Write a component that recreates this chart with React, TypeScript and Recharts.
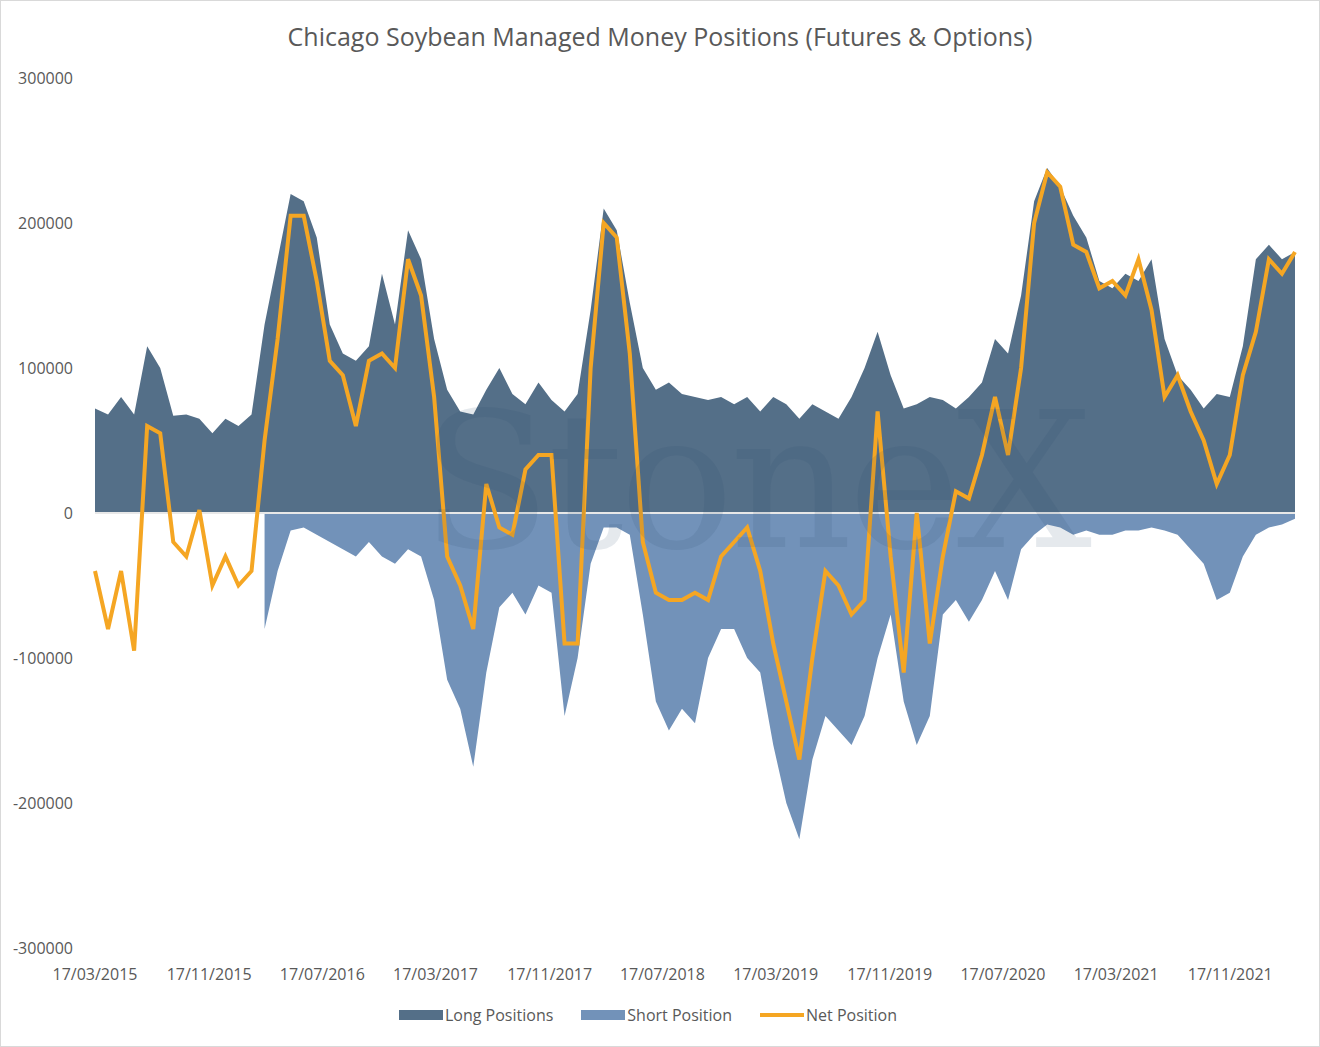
import React from "react";
import {
  Area,
  ComposedChart,
  Legend,
  Line,
  ReferenceLine,
  XAxis,
  YAxis
} from "recharts";

// Four-weekly CFTC reports from 17/03/2015 (values in thousand contracts)
const DAY = 24 * 3600 * 1000;
const START = Date.UTC(2015, 2, 17);

const longPositions = [
  72, 68, 80, 68, 115, 100, 67, 68, 65, 55, 65, 60, 68, 130, 175, 220, 215, 190, 130, 110,
  105, 115, 165, 130, 195, 175, 120, 85, 70, 68, 85, 100, 82, 75, 90, 78, 70, 82, 140, 210,
  195, 145, 100, 85, 90, 82, 80, 78, 80, 75, 80, 70, 80, 75, 65, 75, 70, 65, 80, 100,
  125, 95, 72, 75, 80, 78, 72, 80, 90, 120, 110, 150, 215, 238, 225, 205, 190, 160, 155, 165,
  160, 175, 120, 95, 85, 72, 82, 80, 115, 175, 185, 175, 180
];

const shortPositions: (number | null)[] = [
  null, null, null, null, null, null, null, null, null, null, null, null, null,
  -80, -40, -12, -10, -15, -20, -25, -30, -20, -30, -35, -25, -30, -60, -115, -135, -175,
  -110, -65, -55, -70, -50, -55, -140, -100, -35, -10, -10, -15, -70, -130, -150, -135, -145,
  -100, -80, -80, -100, -110, -160, -200, -225, -170, -140, -150, -160, -140, -100, -70, -130,
  -160, -140, -70, -60, -75, -60, -40, -60, -25, -15, -8, -10, -15, -12, -15, -15, -12,
  -12, -10, -12, -15, -25, -35, -60, -55, -30, -15, -10, -8, -4
];

const netPositions = [
  -40, -80, -40, -95, 60, 55, -20, -30, 2, -50, -30, -50, -40, 50, 120, 205, 205, 160, 105, 95,
  60, 105, 110, 100, 175, 150, 80, -30, -50, -80, 20, -10, -15, 30, 40, 40, -90, -90, 100, 200,
  190, 110, -20, -55, -60, -60, -55, -60, -30, -20, -10, -40, -90, -130, -170, -100, -40, -50, -70, -60,
  70, -30, -110, 0, -90, -30, 15, 10, 40, 80, 40, 100, 200, 235, 225, 185, 180, 155, 160, 150,
  175, 140, 80, 95, 70, 50, 20, 40, 95, 125, 175, 165, 180
];

const tickDates = [
  [2015, 2], [2015, 10], [2016, 6], [2017, 2], [2017, 10], [2018, 6],
  [2019, 2], [2019, 10], [2020, 6], [2021, 2], [2021, 10]
];
const yTicks = [-300000, -200000, -100000, 0, 100000, 200000, 300000];

const data = longPositions.map((v, i) => ({
  date: START + i * 28 * DAY,
  long: v * 1000,
  short: shortPositions[i] === null ? null : (shortPositions[i] as number) * 1000,
  net: netPositions[i] * 1000
}));

const xTicks = tickDates.map(([y, m]) => Date.UTC(y, m, 17));

const fmtDate = (t: number) => {
  const d = new Date(t);
  const mm = String(d.getUTCMonth() + 1).padStart(2, "0");
  return `17/${mm}/${d.getUTCFullYear()}`;
};

const LONG = "#546f88";
const SHORT = "#7292b9";
const NET = "#f5a623";
const TEXT = "#595959";
const FONT = "'Open Sans', 'Liberation Sans', sans-serif";

function LegendBox() {
  const items = [
    { label: "Long Positions", color: LONG, kind: "box" },
    { label: "Short Position", color: SHORT, kind: "box" },
    { label: "Net Position", color: NET, kind: "line" }
  ];
  return (
    <div style={{ display: "flex", justifyContent: "center", gap: 28, fontFamily: FONT, fontSize: 16, color: TEXT }}>
      {items.map((it) => (
        <div key={it.label} style={{ display: "flex", alignItems: "center", gap: 2 }}>
          <span
            style={{
              display: "inline-block",
              width: 44,
              height: it.kind === "box" ? 10 : 4,
              background: it.color
            }}
          />
          <span>{it.label}</span>
        </div>
      ))}
    </div>
  );
}

export default function App() {
  return (
    <div
      style={{
        position: "absolute",
        left: 0,
        top: 0,
        width: 1318,
        height: 1045,
        border: "1px solid #d9d9d9",
        background: "#fff"
      }}
    >
      <div
        style={{
          position: "absolute",
          top: 18,
          width: "100%",
          textAlign: "center",
          fontFamily: FONT,
          fontSize: 25,
          color: TEXT
        }}
      >
        Chicago Soybean Managed Money Positions (Futures &amp; Options)
      </div>
      <ComposedChart
        width={1318}
        height={1045}
        data={data}
        margin={{ top: 77, right: 24, bottom: 6, left: 0 }}
        style={{ position: "absolute", left: 0, top: 0 }}
      >
        <XAxis
          dataKey="date"
          type="number"
          scale="time"
          domain={["dataMin", "dataMax"]}
          ticks={xTicks}
          tickFormatter={fmtDate}
          axisLine={false}
          tickLine={false}
          tickMargin={15}
          height={56}
          tick={{ fill: TEXT, fontSize: 16, fontFamily: FONT }}
        />
        <YAxis
          type="number"
          domain={[-300000, 300000]}
          ticks={yTicks}
          axisLine={false}
          tickLine={false}
          tickMargin={16}
          width={94}
          tick={{ fill: TEXT, fontSize: 16, fontFamily: FONT }}
        />
        <Area
          type="linear"
          dataKey="long"
          name="Long Positions"
          fill={LONG}
          fillOpacity={1}
          stroke="none"
          isAnimationActive={false}
        />
        <Area
          type="linear"
          dataKey="short"
          name="Short Position"
          fill={SHORT}
          fillOpacity={1}
          stroke="none"
          isAnimationActive={false}
        />
        <ReferenceLine y={0} stroke="#e8e8e8" strokeWidth={2} />
        <Line
          type="linear"
          dataKey="net"
          name="Net Position"
          stroke={NET}
          strokeWidth={4}
          dot={false}
          isAnimationActive={false}
        />
        <Legend verticalAlign="bottom" height={36} content={() => <LegendBox />} />
      </ComposedChart>
      <div
        style={{
          position: "absolute",
          left: 420,
          top: 370,
          fontFamily: "'DejaVu Serif', serif",
          fontSize: 190,
          color: "rgba(40,70,110,0.12)",
          letterSpacing: -4,
          pointerEvents: "none"
        }}
      >
        StoneX
      </div>
    </div>
  );
}
